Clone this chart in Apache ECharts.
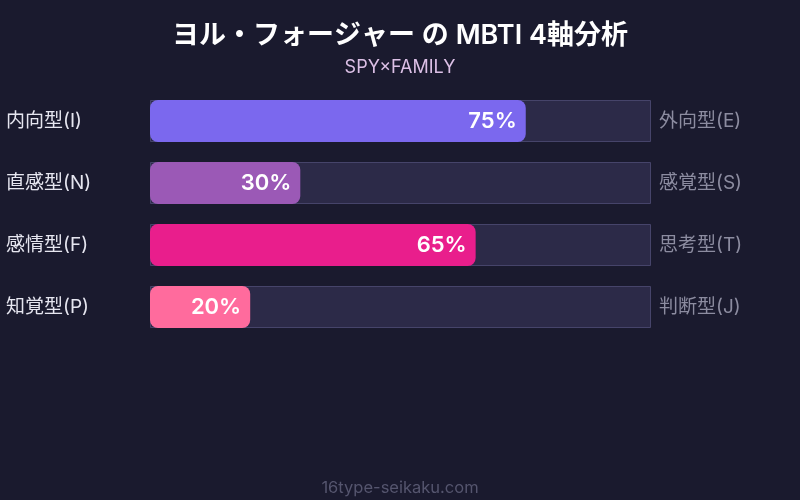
<!DOCTYPE html>
<html><head><meta charset="utf-8">
<script src="https://cdn.jsdelivr.net/npm/echarts@6/dist/echarts.min.js"></script>
<style>html,body{margin:0;padding:0;background:#1a1a2e;}#c{width:800px;height:500px;}</style>
</head><body><div id="c"></div>
<script>
const leftLabels = ['内向型(I)', '直感型(N)', '感情型(F)', '知覚型(P)'];
const rightLabels = ['外向型(E)', '感覚型(S)', '思考型(T)', '判断型(J)'];
const values = [75, 30, 65, 20];
const barColors = ['#7b68ee', '#9b59b6', '#e91e8c', '#ff6b9d'];
const fullScale = [100, 100, 100, 100];

const font = 'Inter, "Noto Sans CJK JP", sans-serif';
const chart = echarts.init(document.getElementById('c'));
chart.setOption({
  backgroundColor: '#1a1a2e',
  textStyle: { fontFamily: font },
  title: [
    { text: 'ヨル・フォージャー の MBTI 4軸分析', left: 'center', top: 17,
      textStyle: { color: '#ffffff', fontSize: 27, fontWeight: 600, fontFamily: font } },
    { text: 'SPY×FAMILY', left: 'center', top: 54,
      textStyle: { color: '#dcc0e6', fontSize: 18, fontWeight: 'normal', fontFamily: font } },
    { text: '16type-seikaku.com', left: 'center', top: 475,
      textStyle: { color: '#55556e', fontSize: 16.5, fontWeight: 'normal', fontFamily: font } }
  ],
  grid: { left: 150, top: 90, width: 501, height: 248 },
  xAxis: { type: 'value', min: 0, max: 100, show: false },
  yAxis: [
    { type: 'category', data: leftLabels, inverse: true,
      axisLine: { show: false }, axisTick: { show: false },
      axisLabel: { color: '#e6e6f0', fontSize: 19, align: 'left', margin: 144, fontFamily: font } },
    { type: 'category', data: rightLabels, inverse: true, position: 'right',
      axisLine: { show: false }, axisTick: { show: false },
      axisLabel: { color: '#8c8ca0', fontSize: 19, margin: 8, fontFamily: font } }
  ],
  series: [
    { type: 'bar', data: fullScale, barWidth: 42, silent: true,
      itemStyle: { color: '#2c2a48', borderColor: '#46446a', borderWidth: 1 } },
    { type: 'bar', barGap: '-100%', barWidth: 42,
      data: values.map((v, i) => ({ value: v, itemStyle: { color: barColors[i] } })),
      itemStyle: { borderRadius: 8 },
      label: { show: true, position: 'insideRight', distance: 9, formatter: '{c}%',
        color: '#ffffff', fontSize: 22, fontWeight: 600, fontFamily: font } }
  ]
});
</script></body></html>
